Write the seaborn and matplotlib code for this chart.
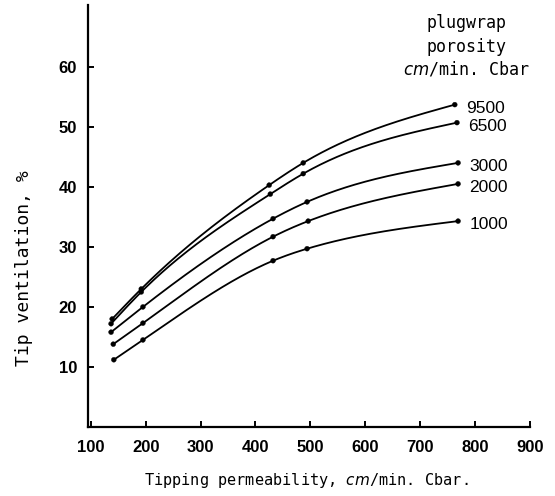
import numpy as np
import pandas as pd
import matplotlib
matplotlib.use("Agg")
import matplotlib.pyplot as plt
import seaborn as sns

# ---- data ----
porosity = ["9500", "6500", "3000", "2000", "1000"]
x_9500 = [139, 192, 425, 487, 763]
y_9500 = [18.0, 23.0, 40.3, 44.0, 53.7]
x_6500 = [137, 192, 427, 487, 767]
y_6500 = [17.2, 22.5, 38.8, 42.2, 50.7]
x_3000 = [137, 195, 432, 494, 769]
y_3000 = [15.8, 20.0, 34.7, 37.5, 44.0]
x_2000 = [141, 195, 432, 496, 769]
y_2000 = [13.8, 17.3, 31.7, 34.3, 40.5]
x_1000 = [142, 195, 432, 494, 769]
y_1000 = [11.2, 14.5, 27.7, 29.7, 34.3]
x_ticks = [100, 200, 300, 400, 500, 600, 700, 800, 900]
y_ticks = [10, 20, 30, 40, 50, 60]

series_x = [x_9500, x_6500, x_3000, x_2000, x_1000]
series_y = [y_9500, y_6500, y_3000, y_2000, y_1000]


def natural_spline(x, y, xs):
    x = np.asarray(x, float)
    y = np.asarray(y, float)
    n = len(x)
    h = np.diff(x)
    A = np.zeros((n, n))
    b = np.zeros(n)
    A[0, 0] = A[-1, -1] = 1.0
    for i in range(1, n - 1):
        A[i, i - 1] = h[i - 1]
        A[i, i] = 2 * (h[i - 1] + h[i])
        A[i, i + 1] = h[i]
        b[i] = 3 * ((y[i + 1] - y[i]) / h[i] - (y[i] - y[i - 1]) / h[i - 1])
    c = np.linalg.solve(A, b)
    out = np.empty(len(xs), dtype=float)
    for k, xv in enumerate(xs):
        i = min(max(np.searchsorted(x, xv) - 1, 0), n - 2)
        bi = (y[i + 1] - y[i]) / h[i] - h[i] * (2 * c[i] + c[i + 1]) / 3
        di = (c[i + 1] - c[i]) / (3 * h[i])
        dx = xv - x[i]
        out[k] = y[i] + bi * dx + c[i] * dx ** 2 + di * dx ** 3
    return out


pts = pd.concat(
    [pd.DataFrame({"x": sx, "y": sy, "p": p}) for p, sx, sy in zip(porosity, series_x, series_y)],
    ignore_index=True,
)
curves = []
for p, sx, sy in zip(porosity, series_x, series_y):
    xs = np.linspace(sx[0], sx[-1], 300)
    curves.append(pd.DataFrame({"x": xs, "y": natural_spline(sx, sy, xs), "p": p}))
curves = pd.concat(curves, ignore_index=True)

sns.set_theme(style="ticks")
plt.rcParams["font.family"] = ["DejaVu Sans"]

fig = plt.figure(figsize=(5.55, 4.96), dpi=100)
ax = fig.add_axes([88 / 555, 1 - 427 / 496, 442 / 555, 422 / 496])

palette = {p: "black" for p in porosity}
sns.lineplot(data=curves, x="x", y="y", hue="p", palette=palette, sort=False,
             estimator=None, linewidth=1.3, legend=False, ax=ax)
sns.scatterplot(data=pts, x="x", y="y", hue="p", palette=palette, s=12,
                edgecolor="black", linewidth=0.3, legend=False, ax=ax, zorder=5)

ax.set_xlim(95, 900)
ax.set_ylim(0, 70.3)
ax.set_xticks(x_ticks)
ax.set_yticks(y_ticks)
tick_font = dict(family=["Liberation Sans"], weight="bold", size=12)
ax.set_xticklabels([str(t) for t in x_ticks], fontdict=tick_font)
ax.set_yticklabels([str(t) for t in y_ticks], fontdict=tick_font)
ax.tick_params(direction="in", length=4, width=1.4, colors="black", pad=8)
ax.tick_params(axis="x", pad=9)
for s in ["top", "right"]:
    ax.spines[s].set_visible(False)
for s in ["left", "bottom"]:
    ax.spines[s].set_linewidth(1.6)
    ax.spines[s].set_color("black")

ax.set_xlabel("Tipping permeability, $\\mathit{cm}$/min. Cbar.",
              family=["DejaVu Sans Mono"], fontsize=11, color="black")
ax.set_ylabel("Tip ventilation, %", family=["DejaVu Sans Mono"], fontsize=13, color="black")
ax.xaxis.set_label_coords(0.493, -0.105)
ax.yaxis.set_label_coords(-0.125, 0.377)

# curve labels
for p, sx, sy in zip(porosity, series_x, series_y):
    ax.annotate(p, (sx[-1], sy[-1]), xytext=(8, -2.5), textcoords="offset points",
                ha="left", va="center", family=["Liberation Sans"],
                fontsize=12.5, color="black")

# legend title
title_font = dict(family=["DejaVu Sans Mono"], fontsize=12, ha="center", va="center", color="black")
fig.text(466 / 555, 1 - 23 / 496, "plugwrap", **title_font)
fig.text(466 / 555, 1 - 47 / 496, "porosity", **title_font)
fig.text(466 / 555, 1 - 69 / 496, "$\\mathit{cm}$/min. Cbar", **title_font)

fig.savefig("out.png", dpi=100, facecolor="white")
